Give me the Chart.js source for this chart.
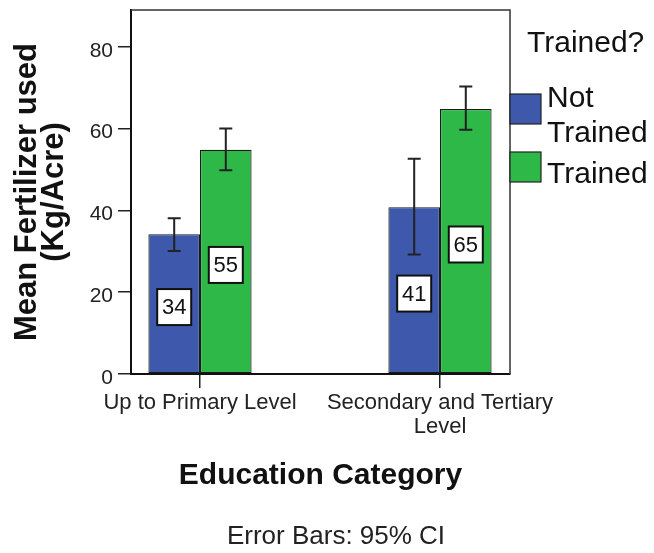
<!DOCTYPE html>
<html>
<head>
<meta charset="utf-8">
<script src="https://cdn.jsdelivr.net/npm/chart.js@4.4.0/dist/chart.umd.min.js"></script>
<style>
  html, body { margin: 0; padding: 0; background: #fff; }
  #wrap { width: 654px; height: 553px; }
</style>
</head>
<body>
<div id="wrap"><canvas id="fertChart" width="654" height="553"></canvas></div>
<script>
// data
const categories = ['Up to Primary Level', 'Secondary and Tertiary Level'];
const seriesNames = ['Not Trained', 'Trained'];
const notTrainedMean = [34.2, 40.8];
const trainedMean = [54.8, 64.8];
const notTrainedLow = [30.1, 29.2];
const notTrainedHigh = [38.1, 52.6];
const trainedLow = [49.8, 59.7];
const trainedHigh = [60.0, 70.3];
const yTicks = [0, 20, 40, 60, 80];

const FONT = "'Liberation Sans', Arial, sans-serif";
const BLUE = '#3e58ac';
const GREEN = '#2eb848';

const measureCtx = document.createElement('canvas').getContext('2d');
function wrapText(text, font, maxWidth) {
  measureCtx.font = font;
  const words = text.split(' ');
  const lines = [];
  let line = '';
  words.forEach(w => {
    const test = line ? line + ' ' + w : w;
    if (line && measureCtx.measureText(test).width > maxWidth) {
      lines.push(line);
      line = w;
    } else {
      line = test;
    }
  });
  if (line) lines.push(line);
  return lines;
}

const errLow = [notTrainedLow, trainedLow];
const errHigh = [notTrainedHigh, trainedHigh];

const extras = {
  id: 'extras',
  afterDatasetsDraw(chart) {
    const ctx = chart.ctx;
    const y = chart.scales.y;
    const area = chart.chartArea;
    ctx.save();

    // error bars
    chart.data.datasets.forEach((ds, d) => {
      chart.getDatasetMeta(d).data.forEach((bar, i) => {
        const yl = y.getPixelForValue(errLow[d][i]);
        const yh = y.getPixelForValue(errHigh[d][i]);
        ctx.strokeStyle = '#222';
        ctx.lineWidth = 2;
        ctx.beginPath();
        ctx.moveTo(bar.x, yl); ctx.lineTo(bar.x, yh);
        ctx.moveTo(bar.x - 6.5, yl); ctx.lineTo(bar.x + 6.5, yl);
        ctx.moveTo(bar.x - 6.5, yh); ctx.lineTo(bar.x + 6.5, yh);
        ctx.stroke();
      });
    });

    // value boxes in the middle of each bar
    chart.data.datasets.forEach((ds, d) => {
      chart.getDatasetMeta(d).data.forEach((bar, i) => {
        const v = ds.data[i].y;
        const cy = y.getPixelForValue(v / 2) + 3;
        const w = 34, h = 36;
        ctx.fillStyle = '#fff';
        ctx.fillRect(bar.x - w / 2, cy - h / 2, w, h);
        ctx.strokeStyle = '#111';
        ctx.lineWidth = 2;
        ctx.strokeRect(bar.x - w / 2, cy - h / 2, w, h);
        ctx.fillStyle = '#111';
        ctx.font = '22px ' + FONT;
        ctx.textAlign = 'center';
        ctx.textBaseline = 'middle';
        ctx.fillText(String(Math.round(v)), bar.x, cy + 1);
      });
    });

    // frame top and right
    ctx.strokeStyle = '#333';
    ctx.lineWidth = 1.5;
    ctx.beginPath();
    ctx.moveTo(area.left, area.top); ctx.lineTo(area.right, area.top);
    ctx.lineTo(area.right, area.bottom);
    ctx.stroke();

    // legend
    ctx.fillStyle = '#111';
    ctx.textAlign = 'left';
    ctx.textBaseline = 'alphabetic';
    ctx.font = '30px ' + FONT;
    ctx.fillText('Trained?', 527, 52);
    chart.data.datasets.forEach((ds, d) => {
      const top = 94 + d * 58;
      ctx.fillStyle = ds.backgroundColor;
      ctx.fillRect(area.right, top, 31, 30);
      ctx.strokeStyle = '#222';
      ctx.lineWidth = 1.2;
      ctx.strokeRect(area.right, top, 31, 30);
      const lines = wrapText(ds.label, '30px ' + FONT, 654 - 547);
      const lh = 35;
      let base = top + 15 + 5 - (lines.length - 1) * lh / 2 + 10.75;
      ctx.fillStyle = '#111';
      lines.forEach((ln, k) => ctx.fillText(ln, 547, base + k * lh));
    });

    // footnote
    ctx.font = '26px ' + FONT;
    ctx.textAlign = 'center';
    ctx.textBaseline = 'middle';
    ctx.fillStyle = '#222';
    ctx.fillText('Error Bars: 95% CI', 336, 537);
    ctx.restore();
  }
};

new Chart(document.getElementById('fertChart'), {
  type: 'bar',
  data: {
    datasets: [
      {
        label: seriesNames[0],
        data: notTrainedMean.map((v, i) => ({ x: i, y: v })),
        backgroundColor: BLUE,
        borderColor: '#1a1a1a',
        borderWidth: 1.2,
        borderSkipped: false
      },
      {
        label: seriesNames[1],
        data: trainedMean.map((v, i) => ({ x: i, y: v })),
        backgroundColor: GREEN,
        borderColor: '#1a1a1a',
        borderWidth: 1.2,
        borderSkipped: false
      }
    ]
  },
  options: {
    responsive: false,
    animation: false,
    devicePixelRatio: 1,
    categoryPercentage: 0.43,
    barPercentage: 1,
    layout: { padding: { top: 10, right: 144, left: 0, bottom: 0 } },
    plugins: {
      legend: { display: false },
      tooltip: { enabled: false }
    },
    scales: {
      x: {
        type: 'linear',
        offset: false,
        min: -0.2875,
        max: 1.2917,
        afterBuildTicks: s => { s.ticks = categories.map((c, i) => ({ value: i })); },
        afterFit: s => { s.height = 179; s.paddingLeft = 0; s.paddingRight = 0; },
        ticks: {
          autoSkip: false,
          maxRotation: 0,
          padding: 3,
          color: '#222',
          font: { family: FONT, size: 22, lineHeight: 1.1 },
          callback: v => wrapText(categories[v], '22px ' + FONT, 240)
        },
        grid: { offset: false, drawOnChartArea: false, drawTicks: true, tickLength: 14, color: '#222', lineWidth: 1.5 },
        border: { display: true, color: '#111', width: 2 },
        title: {
          display: true,
          text: 'Education Category',
          color: '#111',
          font: { family: FONT, size: 30, weight: 'bold', lineHeight: 1.2 },
          padding: { top: 0, bottom: 59 }
        }
      },
      y: {
        min: 0,
        max: 89,
        afterBuildTicks: s => { s.ticks = yTicks.map(v => ({ value: v })); },
        afterFit: s => { s.width = 131; s.paddingTop = 0; s.paddingBottom = 0; },
        ticks: {
          padding: 5,
          labelOffset: 4,
          color: '#222',
          font: { family: FONT, size: 21 }
        },
        grid: { drawOnChartArea: false, drawTicks: true, tickLength: 13, color: '#222', lineWidth: 1.5 },
        border: { display: true, color: '#111', width: 2 },
        title: {
          display: true,
          text: ['Mean Fertilizer used', '(Kg/Acre)'],
          color: '#111',
          font: { family: FONT, size: 31, weight: 'bold', lineHeight: 0.87 },
          padding: { top: 14, bottom: 0 }
        }
      }
    }
  },
  plugins: [extras]
});
</script>
</body>
</html>
